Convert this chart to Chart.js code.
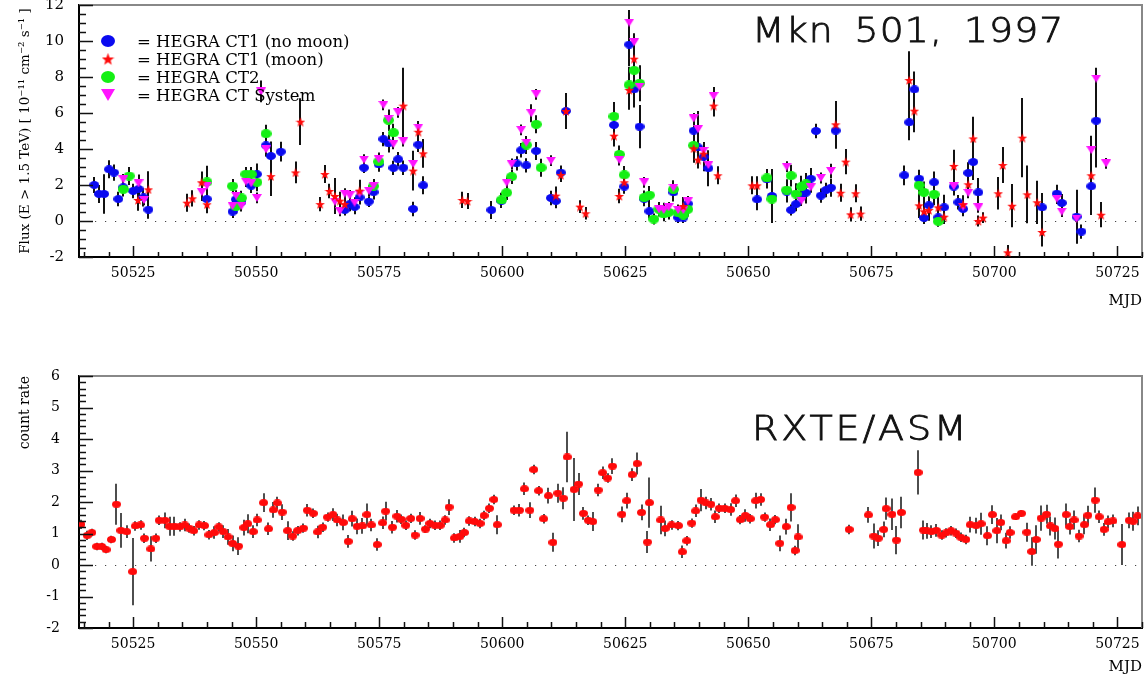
<!DOCTYPE html>
<html>
<head>
<meta charset="utf-8">
<script src="https://cdn.jsdelivr.net/npm/chart.js@4.4.1/dist/chart.umd.min.js"></script>
<style>
  html, body { margin: 0; padding: 0; background: #fff; }
  #top { position: absolute; left: 0; top: 0; width: 1147px; height: 320px; }
  #bottom { position: absolute; left: 0; top: 360px; width: 1147px; height: 318px; }
</style>
</head>
<body>
<div id="top"><canvas id="tevChart"></canvas></div>
<div id="bottom"><canvas id="asmChart"></canvas></div>
<script>
// ---- data (MJD, value, error) ----
const mjdTicks = [50525, 50550, 50575, 50600, 50625, 50650, 50675, 50700, 50725];

// HEGRA CT1, no moon (blue)
const ct1NoMoonMjd = [50517.1, 50518.05, 50519.1, 50520.1, 50521.1, 50522.0, 50523.0, 50525.0, 50526.1, 50527.1,
  50528.1, 50539.95, 50545.2, 50545.9, 50547.0, 50549.0, 50550.15, 50552.0, 50553.0, 50555.0,
  50568.0, 50569.0, 50570.0, 50571.0, 50571.9, 50572.9, 50573.85, 50574.9, 50575.85, 50576.9,
  50577.9, 50578.85, 50579.9, 50581.9, 50582.95, 50583.95, 50597.8, 50599.85, 50602.9, 50603.85,
  50604.9, 50606.9, 50609.9, 50610.9, 50611.9, 50612.95, 50622.7, 50624.8, 50625.8, 50626.8,
  50627.9, 50628.85, 50629.9, 50632.8, 50634.8, 50635.75, 50636.8, 50637.7, 50638.9, 50639.8,
  50640.9, 50641.9, 50651.8, 50653.8, 50654.8, 50657.8, 50658.7, 50659.7, 50660.8, 50661.7,
  50662.7, 50663.75, 50664.75, 50665.8, 50666.8, 50667.75, 50681.7, 50682.7, 50683.75, 50684.7,
  50685.7, 50686.7, 50687.75, 50688.6, 50689.8, 50691.75, 50692.7, 50693.65, 50694.7, 50695.7,
  50696.75, 50709.7, 50712.7, 50713.7, 50716.7, 50717.7, 50719.7, 50720.7];
const ct1NoMoonFlux = [2.0, 1.5, 1.5, 2.87, 2.69, 1.22, 1.87, 1.67, 1.78, 1.31,
  0.63, 1.22, 0.52, 1.2, 1.06, 1.96, 2.6, 4.2, 3.61, 3.85,
  0.61, 0.94, 0.78, 1.31, 2.96, 1.08, 1.6, 3.14, 4.55, 4.31,
  2.95, 3.43, 2.96, 0.67, 4.24, 1.98, 0.61, 1.12, 3.2, 3.93,
  3.09, 3.89, 1.28, 1.11, 2.69, 6.11, 5.33, 1.91, 9.8, 7.31,
  5.24, 1.22, 0.54, 0.61, 1.59, 0.19, 0.19, 0.96, 5.02, 4.09,
  3.56, 2.93, 1.2, 2.31, 1.39, 1.63, 0.61, 0.94, 1.35, 1.57,
  2.35, 5.0, 1.41, 1.72, 1.85, 5.02, 2.54, 5.48, 7.31, 2.35,
  0.17, 0.87, 2.15, 0.2, 0.76, 1.91, 1.04, 0.67, 2.67, 3.28,
  1.59, 0.76, 1.52, 1.0, 0.24, -0.59, 1.93, 5.57];
const ct1NoMoonErr = [0.45, 0.5, 1.1, 0.5, 0.45, 0.4, 0.4, 0.4, 0.8, 0.5,
  0.5, 0.5, 0.35, 0.4, 0.4, 0.4, 0.6, 0.6, 0.8, 0.55,
  0.3, 0.4, 0.4, 0.4, 0.3, 0.3, 0.4, 0.4, 0.4, 0.5,
  0.4, 0.4, 0.4, 0.4, 0.4, 0.5, 0.5, 0.4, 0.4, 0.4,
  0.4, 0.5, 0.4, 0.4, 0.4, 1.0, 1.0, 0.4, 1.2, 1.0,
  1.2, 0.4, 0.4, 0.4, 0.5, 0.3, 0.3, 0.4, 0.8, 0.9,
  0.8, 1.0, 0.6, 0.5, 1.5, 0.6, 0.3, 0.4, 0.5, 0.6,
  0.6, 0.4, 0.4, 0.4, 0.5, 1.0, 0.55, 1.0, 1.0, 0.5,
  0.3, 0.5, 0.6, 0.3, 0.7, 0.5, 0.4, 0.4, 0.6, 1.0,
  0.8, 0.8, 0.5, 0.5, 1.5, 0.4, 1.5, 2.6];

// HEGRA CT1, moon (red stars)
const ct1MoonMjd = [50526.0, 50528.1, 50535.95, 50537.05, 50538.9, 50540.0, 50553.0, 50558.0, 50559.0, 50563.0,
  50563.95, 50564.9, 50566.0, 50567.0, 50568.0, 50571.0, 50579.9, 50581.9, 50582.95, 50583.95,
  50591.9, 50592.95, 50610.9, 50611.9, 50612.95, 50615.8, 50616.95, 50622.7, 50623.8, 50624.8,
  50625.8, 50626.8, 50636.8, 50638.9, 50639.8, 50640.9, 50642.95, 50643.8, 50650.8, 50651.8,
  50667.75, 50668.75, 50669.8, 50670.8, 50671.8, 50672.8, 50682.7, 50683.75, 50684.7, 50685.7,
  50686.7, 50688.6, 50689.8, 50691.75, 50693.65, 50694.7, 50695.7, 50696.75, 50697.7, 50700.8,
  50701.7, 50702.7, 50703.6, 50705.7, 50706.7, 50708.7, 50709.7, 50719.7, 50721.7];
const ct1MoonFlux = [1.17, 1.76, 1.02, 1.26, 2.15, 0.93, 2.49, 2.7, 5.52, 0.94,
  2.61, 1.67, 1.39, 1.13, 0.94, 1.69, 6.41, 2.8, 4.96, 3.76,
  1.17, 1.11, 1.41, 2.56, 6.11, 0.8, 0.43, 4.74, 1.39, 2.15,
  7.28, 9.02, 0.83, 4.04, 3.41, 3.74, 6.41, 2.54, 1.98, 1.98,
  5.37, 1.57, 3.3, 0.37, 1.54, 0.41, 7.83, 6.13, 0.87, 0.54,
  0.61, 0.76, 0.24, 3.06, 0.93, 2.04, 4.59, 0.0, 0.19, 1.54,
  3.11, -1.74, 0.85, 4.63, 1.48, 1.04, -0.61, 2.54, 0.35];
const ct1MoonErr = [0.6, 1.0, 0.5, 0.45, 0.6, 0.5, 1.1, 0.6, 1.3, 0.4,
  0.5, 0.4, 1.0, 0.5, 0.4, 0.6, 2.1, 1.1, 0.6, 0.8,
  0.45, 0.45, 0.5, 0.4, 1.0, 0.35, 0.35, 0.6, 0.4, 0.6,
  1.1, 1.0, 0.5, 0.8, 0.5, 0.6, 0.6, 0.5, 0.5, 0.5,
  1.3, 0.5, 0.7, 0.4, 0.5, 0.4, 1.6, 1.2, 0.7, 0.7,
  0.6, 0.6, 0.4, 0.9, 0.5, 0.6, 1.2, 0.3, 0.3, 0.9,
  1.0, 0.4, 1.2, 2.2, 1.6, 1.2, 0.8, 2.2, 0.7];

// HEGRA CT2 (green)
const ct2Mjd = [50523.0, 50524.2, 50540.0, 50545.2, 50545.9, 50547.0, 50547.9, 50549.0, 50550.15, 50552.0,
  50573.85, 50574.9, 50576.9, 50577.9, 50599.85, 50600.9, 50601.9, 50604.9, 50606.9, 50607.9,
  50622.7, 50623.8, 50624.8, 50625.8, 50626.8, 50627.9, 50628.85, 50629.9, 50630.8, 50631.85,
  50632.8, 50633.8, 50634.8, 50635.75, 50636.8, 50637.7, 50638.9, 50653.8, 50654.8, 50657.8,
  50658.7, 50659.7, 50660.8, 50661.7, 50684.7, 50685.7, 50687.75, 50688.6];
const ct2Flux = [1.76, 2.5, 2.17, 1.94, 0.8, 1.28, 2.6, 2.6, 2.15, 4.85,
  1.94, 3.3, 5.6, 4.9, 1.17, 1.57, 2.46, 4.22, 5.37, 2.96,
  5.81, 3.7, 2.56, 7.56, 8.37, 7.65, 1.3, 1.44, 0.11, 0.65,
  0.39, 0.48, 1.76, 0.46, 0.33, 0.65, 4.2, 2.39, 1.22, 1.72,
  2.52, 1.5, 1.91, 2.06, 1.98, 1.59, 1.48, -0.02];
const ct2Err = [0.4, 0.5, 0.9, 0.4, 0.4, 0.4, 0.4, 0.4, 0.5, 0.5,
  0.4, 0.5, 0.6, 0.5, 0.4, 0.4, 0.4, 0.5, 0.5, 0.5,
  0.8, 0.5, 0.5, 1.0, 0.8, 1.0, 0.4, 0.5, 0.3, 0.4,
  0.4, 0.4, 0.5, 0.4, 0.4, 0.4, 0.8, 0.5, 0.6, 0.6,
  0.6, 0.6, 0.6, 0.6, 0.6, 0.6, 0.6, 0.3];

// HEGRA CT System (magenta)
const ctSysMjd = [50523.0, 50526.1, 50527.2, 50538.95, 50540.0, 50545.2, 50545.9, 50547.0, 50547.9, 50549.0,
  50550.15, 50551.0, 50552.0, 50566.0, 50567.0, 50568.0, 50569.0, 50570.0, 50571.0, 50571.9,
  50572.9, 50573.85, 50574.9, 50575.85, 50576.9, 50577.9, 50578.85, 50579.9, 50581.9, 50582.95,
  50600.9, 50601.9, 50603.85, 50604.9, 50605.9, 50606.9, 50609.9, 50623.8, 50625.8, 50626.8,
  50627.9, 50628.85, 50631.85, 50632.8, 50633.8, 50634.8, 50635.75, 50636.8, 50637.7, 50638.9,
  50639.8, 50640.9, 50641.9, 50642.95, 50657.8, 50660.8, 50662.7, 50664.75, 50666.8, 50691.75,
  50693.65, 50694.7, 50696.75, 50712.7, 50713.7, 50716.7, 50719.7, 50720.7, 50722.7];
const ctSysFlux = [2.31, 2.09, 1.17, 1.61, 1.96, 0.83, 1.41, 0.83, 2.19, 2.1,
  1.28, 7.2, 3.98, 1.07, 0.56, 1.52, 1.42, 1.02, 1.52, 3.41,
  1.68, 1.96, 3.43, 6.45, 5.67, 4.28, 6.03, 4.44, 3.17, 5.19,
  2.13, 3.17, 5.06, 4.35, 5.98, 7.04, 3.35, 3.39, 11.02, 9.93,
  7.46, 2.15, 0.65, 0.61, 0.76, 1.85, 0.61, 0.61, 1.09, 5.7,
  5.11, 3.89, 3.11, 6.94, 3.02, 1.13, 1.87, 2.39, 2.78, 1.94,
  0.8, 1.56, 0.76, 1.24, 0.52, 0.13, 3.94, 7.91, 3.2];
const ctSysErr = [0.3, 0.3, 0.3, 0.5, 0.5, 0.3, 0.3, 0.3, 0.3, 0.3,
  0.3, 0.6, 0.4, 0.3, 0.3, 0.3, 0.3, 0.3, 0.3, 0.3,
  0.3, 0.3, 0.3, 0.3, 0.5, 0.3, 0.3, 0.3, 0.3, 0.3,
  0.3, 0.3, 0.3, 0.3, 0.5, 0.3, 0.3, 0.3, 0.7, 0.5,
  0.5, 0.3, 0.3, 0.3, 0.3, 0.3, 0.3, 0.3, 0.3, 0.3,
  1.0, 0.5, 0.3, 0.5, 0.3, 0.3, 0.3, 0.3, 0.4, 0.3,
  0.3, 0.3, 0.3, 0.3, 0.3, 0.3, 0.4, 0.6, 0.3];

// RXTE/ASM count rate (red)
const asmMjd = [50514.4, 50515.67, 50516.6, 50517.6, 50518.6, 50519.5, 50520.6, 50521.6, 50522.5, 50523.7,
  50524.9, 50525.45, 50526.5, 50527.3, 50528.6, 50529.6, 50530.3, 50531.5, 50532.4, 50533.4,
  50534.5, 50535.5, 50536.4, 50537.3, 50538.4, 50539.5, 50540.4, 50541.5, 50542.4, 50543.3,
  50544.3, 50545.2, 50546.4, 50547.5, 50548.3, 50549.4, 50550.2, 50551.5, 50552.5, 50553.5,
  50554.3, 50555.3, 50556.4, 50557.4, 50558.4, 50559.6, 50560.4, 50561.6, 50562.5, 50563.5,
  50564.5, 50565.6, 50566.5, 50567.7, 50568.7, 50569.5, 50570.5, 50571.6, 50572.5, 50573.4,
  50574.6, 50575.7, 50576.3, 50577.7, 50578.6, 50579.5, 50580.4, 50581.4, 50582.3, 50583.3,
  50584.4, 50585.3, 50586.3, 50587.4, 50588.4, 50589.2, 50590.3, 50591.4, 50592.3, 50593.3,
  50594.4, 50595.5, 50596.3, 50597.4, 50598.3, 50599.0, 50602.4, 50603.5, 50604.5, 50605.6,
  50606.4, 50607.4, 50608.4, 50609.4, 50610.3, 50611.3, 50612.4, 50613.2, 50614.6, 50615.5,
  50616.5, 50617.5, 50618.4, 50619.5, 50620.4, 50621.4, 50622.4, 50624.3, 50625.3, 50626.4,
  50627.4, 50628.3, 50629.5, 50629.9, 50632.2, 50633.1, 50634.4, 50635.8, 50636.6, 50637.5,
  50638.5, 50639.3, 50640.4, 50641.4, 50642.4, 50643.3, 50644.1, 50645.2, 50646.4, 50647.4,
  50648.4, 50649.4, 50650.4, 50651.5, 50652.5, 50653.3, 50654.5, 50655.5, 50656.4, 50657.7,
  50658.7, 50659.5, 50660.1, 50670.5, 50674.4, 50675.5, 50676.4, 50677.5, 50678.0, 50679.2,
  50680.1, 50681.1, 50684.5, 50685.6, 50686.3, 50687.2, 50688.2, 50689.3, 50690.2, 50691.2,
  50692.2, 50693.2, 50694.2, 50695.1, 50696.3, 50697.3, 50698.6, 50699.6, 50700.5, 50701.3,
  50702.4, 50703.2, 50704.3, 50705.5, 50706.6, 50707.6, 50708.5, 50709.5, 50710.6, 50711.4,
  50712.3, 50713.0, 50714.6, 50715.3, 50716.2, 50717.2, 50718.3, 50719.0, 50720.5, 50721.3,
  50722.3, 50723.1, 50724.1, 50725.9, 50727.4, 50728.2, 50729.1];
const asmRate = [1.29, 0.94, 1.03, 0.59, 0.59, 0.49, 0.81, 1.93, 1.10, 1.06,
  -0.21, 1.24, 1.27, 0.85, 0.51, 0.85, 1.42, 1.42, 1.23, 1.23,
  1.21, 1.27, 1.17, 1.09, 1.27, 1.25, 0.96, 1.03, 1.21, 1.06,
  0.89, 0.69, 0.60, 1.19, 1.31, 1.06, 1.43, 1.98, 1.15, 1.75,
  1.97, 1.68, 1.09, 0.92, 1.09, 1.17, 1.74, 1.64, 1.05, 1.20,
  1.52, 1.60, 1.43, 1.35, 0.75, 1.47, 1.23, 1.24, 1.60, 1.27,
  0.65, 1.34, 1.71, 1.20, 1.55, 1.45, 1.26, 1.48, 0.95, 1.48,
  1.14, 1.32, 1.26, 1.26, 1.43, 1.84, 0.86, 0.91, 1.03, 1.40,
  1.38, 1.32, 1.57, 1.80, 2.08, 1.28, 1.74, 1.74, 2.42, 1.74,
  3.03, 2.36, 1.47, 2.20, 0.72, 2.28, 2.12, 3.43, 2.40, 2.57,
  1.64, 1.42, 1.38, 2.38, 2.93, 2.76, 3.14, 1.61, 2.04, 2.87,
  3.22, 1.67, 0.73, 1.98, 1.43, 1.16, 1.27, 1.25, 0.42, 0.77,
  1.33, 1.72, 2.06, 1.97, 1.93, 1.53, 1.80, 1.80, 1.76, 2.04,
  1.44, 1.57, 1.47, 2.04, 2.08, 1.52, 1.28, 1.44, 0.69, 1.22,
  1.83, 0.46, 0.89, 1.13, 1.59, 0.92, 0.85, 1.13, 1.79, 1.61,
  0.79, 1.67, 2.94, 1.11, 1.08, 1.06, 1.10, 0.95, 1.02, 1.09,
  1.01, 0.88, 0.81, 1.28, 1.25, 1.31, 0.93, 1.60, 1.09, 1.35,
  0.77, 1.03, 1.53, 1.64, 1.04, 0.43, 0.81, 1.49, 1.61, 1.24,
  1.16, 0.66, 1.60, 1.22, 1.43, 0.92, 1.28, 1.58, 2.06, 1.53,
  1.13, 1.37, 1.40, 0.65, 1.42, 1.39, 1.56];
const asmErr = [0.15, 0.15, 0.12, 0.12, 0.12, 0.12, 0.12, 0.65, 0.55, 0.2,
  1.07, 0.15, 0.15, 0.15, 0.4, 0.15, 0.15, 0.25, 0.3, 0.3,
  0.15, 0.2, 0.15, 0.15, 0.15, 0.15, 0.15, 0.2, 0.15, 0.2,
  0.25, 0.25, 0.28, 0.25, 0.3, 0.2, 0.2, 0.3, 0.2, 0.25,
  0.2, 0.25, 0.3, 0.15, 0.15, 0.15, 0.2, 0.15, 0.2, 0.15,
  0.15, 0.2, 0.2, 0.25, 0.2, 0.25, 0.25, 0.25, 0.35, 0.2,
  0.2, 0.2, 0.3, 0.2, 0.2, 0.15, 0.15, 0.15, 0.15, 0.2,
  0.12, 0.15, 0.15, 0.15, 0.15, 0.25, 0.15, 0.2, 0.15, 0.15,
  0.15, 0.15, 0.15, 0.15, 0.15, 0.3, 0.15, 0.2, 0.2, 0.25,
  0.15, 0.15, 0.15, 0.25, 0.3, 0.3, 0.35, 0.8, 1.0, 0.35,
  0.2, 0.15, 0.3, 0.2, 0.2, 0.15, 0.25, 0.25, 0.25, 0.2,
  0.35, 0.25, 0.35, 0.8, 0.45, 0.25, 0.15, 0.15, 0.2, 0.15,
  0.15, 0.2, 0.35, 0.2, 0.2, 0.2, 0.15, 0.15, 0.2, 0.2,
  0.15, 0.2, 0.15, 0.25, 0.2, 0.15, 0.2, 0.15, 0.25, 0.25,
  0.45, 0.15, 0.4, 0.15, 0.25, 0.4, 0.25, 0.25, 0.35, 0.5,
  0.45, 0.5, 0.7, 0.3, 0.25, 0.2, 0.2, 0.15, 0.15, 0.15,
  0.15, 0.15, 0.15, 0.25, 0.25, 0.35, 0.3, 0.3, 0.4, 0.25,
  0.25, 0.2, 0.1, 0.1, 0.3, 0.45, 0.45, 0.4, 0.3, 0.3,
  0.35, 0.45, 0.35, 0.25, 0.3, 0.2, 0.3, 0.3, 0.4, 0.2,
  0.2, 0.2, 0.2, 0.65, 0.25, 0.3, 0.3];

// ---- markers (ROOT style) ----
function marker(w, h, color, shape) {
  const c = document.createElement('canvas');
  c.width = w; c.height = h;
  const g = c.getContext('2d');
  g.fillStyle = color;
  g.beginPath();
  if (shape === 'ellipse') {
    g.ellipse(w / 2, h / 2, w / 2, h / 2, 0, 0, Math.PI * 2);
  } else if (shape === 'tri') {
    g.moveTo(0, 0); g.lineTo(w, 0); g.lineTo(w / 2, h); g.closePath();
  } else {
    const R = w / 2, r = R * 0.42;
    for (let k = 0; k < 10; k++) {
      const a = -Math.PI / 2 + k * Math.PI / 5, rr = k % 2 ? r : R;
      g.lineTo(w / 2 + rr * Math.cos(a), h / 2 + 0.6 + rr * Math.sin(a));
    }
    g.closePath();
  }
  g.fill();
  return c;
}
const BLUE = '#0a0af0', RED = '#ff0a0a', GREEN = '#14f014', MAGENTA = '#ff14ff';
const blueDot = marker(10, 8, BLUE, 'ellipse');
const redStar = marker(10, 10, RED, 'star');
const greenDot = marker(11, 9, GREEN, 'ellipse');
const magTri = marker(10, 8, MAGENTA, 'tri');
const asmDot = marker(9, 7, RED, 'ellipse');

const pts = (xs, ys) => xs.map((x, i) => ({ x, y: ys[i] }));

// ---- plugins ----
const errorBars = {
  id: 'errorBars',
  beforeDatasetsDraw(chart, args, o) {
    const { ctx, chartArea: a, scales: { x, y } } = chart;
    ctx.save();
    ctx.beginPath(); ctx.rect(a.left, a.top, a.width, a.height); ctx.clip();
    // dotted zero line
    ctx.strokeStyle = '#444'; ctx.lineWidth = 1; ctx.setLineDash([1.2, 8.8]);
    const y0 = Math.round(y.getPixelForValue(0)) + 0.5;
    ctx.beginPath(); ctx.moveTo(a.left + 6, y0); ctx.lineTo(a.right, y0); ctx.stroke();
    ctx.setLineDash([]);
    ctx.strokeStyle = o.color; ctx.lineWidth = o.width;
    chart.data.datasets.forEach(ds => {
      if (!ds.errors) return;
      ctx.beginPath();
      ds.data.forEach((p, i) => {
        const px = Math.round(x.getPixelForValue(p.x));
        ctx.moveTo(px, y.getPixelForValue(p.y - ds.errors[i]));
        ctx.lineTo(px, y.getPixelForValue(p.y + ds.errors[i]));
      });
      ctx.stroke();
    });
    ctx.restore();
  }
};

const frameTicks = {
  id: 'frameTicks',
  afterDraw(chart, args, o) {
    const { ctx, chartArea: a, scales: { x, y } } = chart;
    ctx.save();
    ctx.strokeStyle = '#888'; ctx.lineWidth = 2;
    ctx.beginPath();
    ctx.moveTo(a.left, a.top); ctx.lineTo(a.right, a.top); ctx.lineTo(a.right, a.bottom);
    ctx.stroke();
    ctx.strokeStyle = '#111'; ctx.lineWidth = 1.5;
    ctx.beginPath();
    const isMaj = (v, s) => Math.abs(v / s - Math.round(v / s)) < 1e-6;
    for (let k = Math.ceil(x.min / o.xMinor); k * o.xMinor <= x.max; k++) {
      const v = k * o.xMinor, px = Math.round(x.getPixelForValue(v)) + 0.5;
      const len = isMaj(v, o.xMajor) ? o.xMajorLen : o.xMinorLen;
      ctx.moveTo(px, a.bottom); ctx.lineTo(px, a.bottom - len);
    }
    for (let k = Math.round(y.min / o.yMinor); k * o.yMinor <= y.max + 1e-9; k++) {
      const v = k * o.yMinor, py = Math.round(y.getPixelForValue(v)) + 0.5;
      const len = isMaj(v, o.yMajor) ? o.yMajorLen : o.yMinorLen;
      ctx.moveTo(a.left, py); ctx.lineTo(a.left + len, py);
    }
    ctx.stroke();
    ctx.restore();
  }
};

const notes = {
  id: 'notes',
  afterDraw(chart, args, o) {
    const { ctx } = chart;
    ctx.save();
    (o.labels || []).forEach(t => {
      ctx.save();
      ctx.fillStyle = '#111';
      ctx.strokeStyle = '#111';
      ctx.lineWidth = 0.8;
      ctx.font = t.font;
      ctx.letterSpacing = t.spacing;
      ctx.wordSpacing = t.wordSpacing || '0px';
      ctx.textBaseline = 'alphabetic';
      ctx.translate(t.x, t.y);
      ctx.scale(t.sx, 1);
      ctx.fillText(t.text, 0, 0);
      ctx.strokeText(t.text, 0, 0);
      ctx.restore();
    });
    ctx.letterSpacing = '0px';
    ctx.wordSpacing = '0px';
    (o.legend || []).forEach((it, i) => {
      const cy = o.legendY + i * o.legendStep;
      ctx.drawImage(it.img, o.legendX - it.img.width / 2, cy - it.img.height / 2);
      ctx.font = o.legendFont;
      ctx.fillStyle = '#000';
      ctx.fillText(it.text, o.legendTextX, cy + 6);
    });
    ctx.restore();
  }
};

function fixBox(size) {
  return scale => {
    if (scale.isHorizontal()) scale.height = size; else scale.width = size;
    scale.paddingTop = 0; scale.paddingBottom = 0;
    scale.paddingLeft = 0; scale.paddingRight = 0;
  };
}

Chart.defaults.font.family = 'DejaVu Serif';
Chart.defaults.color = '#000';

function xScale(height, labelPad, titlePad) {
  return {
    type: 'linear', min: 50514, max: 50730,
    afterBuildTicks: s => { s.ticks = mjdTicks.map(v => ({ value: v })); },
    afterFit: fixBox(height),
    grid: { display: false },
    border: { display: true, color: '#000', width: 2 },
    ticks: { font: { size: 14 }, padding: labelPad, maxRotation: 0, autoSkip: false, callback: v => String(v) },
    title: { display: true, text: 'MJD', align: 'end', font: { size: 15 }, padding: { top: 0, bottom: titlePad } }
  };
}

// ---- top: HEGRA TeV flux ----
new Chart(document.getElementById('tevChart'), {
  type: 'scatter',
  data: {
    datasets: [
      { label: 'HEGRA CT1 (no moon)', data: pts(ct1NoMoonMjd, ct1NoMoonFlux), errors: ct1NoMoonErr, pointStyle: blueDot, pointRadius: 4, order: 4 },
      { label: 'HEGRA CT1 (moon)', data: pts(ct1MoonMjd, ct1MoonFlux), errors: ct1MoonErr, pointStyle: redStar, pointRadius: 4, order: 1 },
      { label: 'HEGRA CT2', data: pts(ct2Mjd, ct2Flux), errors: ct2Err, pointStyle: greenDot, pointRadius: 4, order: 3 },
      { label: 'HEGRA CT System', data: pts(ctSysMjd, ctSysFlux), errors: ctSysErr, pointStyle: magTri, pointRadius: 4, order: 2 }
    ]
  },
  options: {
    responsive: true, maintainAspectRatio: false, animation: false,
    layout: { padding: { top: 5, right: 4, left: 0, bottom: 0 } },
    plugins: {
      legend: { display: false }, tooltip: { enabled: false },
      errorBars: { color: '#111', width: 2 },
      frameTicks: { xMinor: 5, xMajor: 25, xMajorLen: 11, xMinorLen: 5, yMinor: 0.5, yMajor: 2, yMajorLen: 14, yMinorLen: 7 },
      notes: {
        labels: [{ text: 'Mkn 501, 1997', x: 752, y: 42, font: '200 34px "DejaVu Sans"', spacing: '1px', wordSpacing: '7px', sx: 1.11 }],
        legend: [
          { img: marker(14, 12, BLUE, 'ellipse'), text: '= HEGRA CT1 (no moon)' },
          { img: marker(13, 13, RED, 'star'), text: '= HEGRA CT1 (moon)' },
          { img: marker(14, 12, GREEN, 'ellipse'), text: '= HEGRA CT2' },
          { img: marker(14, 12, MAGENTA, 'tri'), text: '= HEGRA CT System' }
        ],
        legendX: 108, legendY: 41, legendStep: 18, legendTextX: 137, legendFont: '16.5px "DejaVu Serif"'
      }
    },
    scales: {
      x: xScale(63, 0, 10),
      y: {
        min: -2, max: 12,
        afterFit: fixBox(79),
        grid: { display: false },
        border: { display: true, color: '#000', width: 2 },
        ticks: { stepSize: 2, font: { size: 15 }, padding: 7 },
        title: { display: true, text: 'Flux (E > 1.5 TeV) [ 10⁻¹¹ cm⁻² s⁻¹ ]', font: { size: 13.5 }, padding: { top: 17, bottom: 0 } }
      }
    }
  },
  plugins: [errorBars, frameTicks, notes]
});

// ---- bottom: RXTE/ASM count rate ----
new Chart(document.getElementById('asmChart'), {
  type: 'scatter',
  data: {
    datasets: [
      { label: 'RXTE/ASM', data: pts(asmMjd, asmRate), errors: asmErr, pointStyle: asmDot, pointRadius: 4 }
    ]
  },
  options: {
    responsive: true, maintainAspectRatio: false, animation: false,
    layout: { padding: { top: 16, right: 4, left: 0, bottom: 0 } },
    plugins: {
      legend: { display: false }, tooltip: { enabled: false },
      errorBars: { color: '#222', width: 1.6 },
      frameTicks: { xMinor: 5, xMajor: 25, xMajorLen: 11, xMinorLen: 6, yMinor: 0.2, yMajor: 1, yMajorLen: 14, yMinorLen: 7 },
      notes: {
        labels: [{ text: 'RXTE/ASM', x: 752, y: 80, font: '200 34px "DejaVu Sans"', spacing: '2.5px', sx: 1.12 }]
      }
    },
    scales: {
      x: xScale(50, 0, 2),
      y: {
        min: -2, max: 6,
        afterFit: fixBox(79),
        grid: { display: false },
        border: { display: true, color: '#000', width: 2 },
        ticks: { stepSize: 1, font: { size: 14 }, padding: 11 },
        title: { display: true, text: 'count rate', align: 'end', font: { size: 14 }, padding: { top: 17, bottom: 0 } }
      }
    }
  },
  plugins: [errorBars, frameTicks, notes]
});
</script>
</body>
</html>
